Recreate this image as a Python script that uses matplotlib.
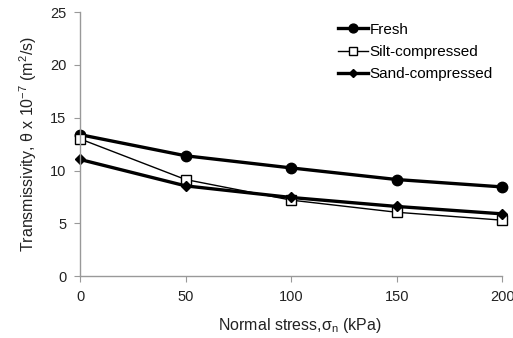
import matplotlib
matplotlib.use("Agg")
import matplotlib.pyplot as plt

plt.rcParams['font.family'] = ['Liberation Sans', 'DejaVu Sans']
plt.rcParams['mathtext.fontset'] = 'custom'
plt.rcParams['mathtext.rm'] = 'Liberation Sans'
plt.rcParams['mathtext.it'] = 'Liberation Sans'

stress = [0, 50, 100, 150, 200]
fresh = [13.4, 11.4, 10.25, 9.15, 8.45]
silt = [13.0, 9.15, 7.2, 6.05, 5.3]
sand = [11.05, 8.55, 7.45, 6.6, 5.9]

fig = plt.figure(figsize=(5.13, 3.38), dpi=100)
ax = fig.add_axes([0.156, 0.183, 0.823, 0.781])

ax.plot(stress, fresh, color='black', lw=2.4, marker='o', ms=7.5, label='Fresh')
ax.plot(stress, silt, color='black', lw=1.0, marker='s', ms=7,
        markerfacecolor='white', markeredgewidth=1.0, label='Silt-compressed')
ax.plot(stress, sand, color='black', lw=2.4, marker='D', ms=5, label='Sand-compressed')

ax.set_xlim(0, 200)
ax.set_ylim(0, 25)
ax.set_xticks([0, 50, 100, 150, 200])
ax.set_yticks([0, 5, 10, 15, 20, 25])
for s in ['top', 'right']:
    ax.spines[s].set_visible(False)
for s in ['left', 'bottom']:
    ax.spines[s].set_color('#999999')
    ax.spines[s].set_linewidth(1.0)
ax.tick_params(colors='#999999', labelcolor='#222222', labelsize=10.5, length=4, pad=6)

ax.set_xlabel('Normal stress,σ$_\\mathrm{n}$ (kPa)', fontsize=11.5, color='#222222')
ax.xaxis.set_label_coords(0.52, -0.15)
ax.set_ylabel('Transmissivity, θ x 10$^{-7}$ (m$^{2}$/s)', fontsize=11.5, color='#222222', labelpad=8)

for ln in ax.lines:
    ln.set_clip_on(False)

ax.legend(loc='upper right', bbox_to_anchor=(1.0, 0.995), frameon=False, fontsize=11,
          handlelength=2.0, handletextpad=0.1, labelspacing=0.55, borderaxespad=0.2,
          markerscale=0.85)

fig.savefig('out.png', dpi=100)
